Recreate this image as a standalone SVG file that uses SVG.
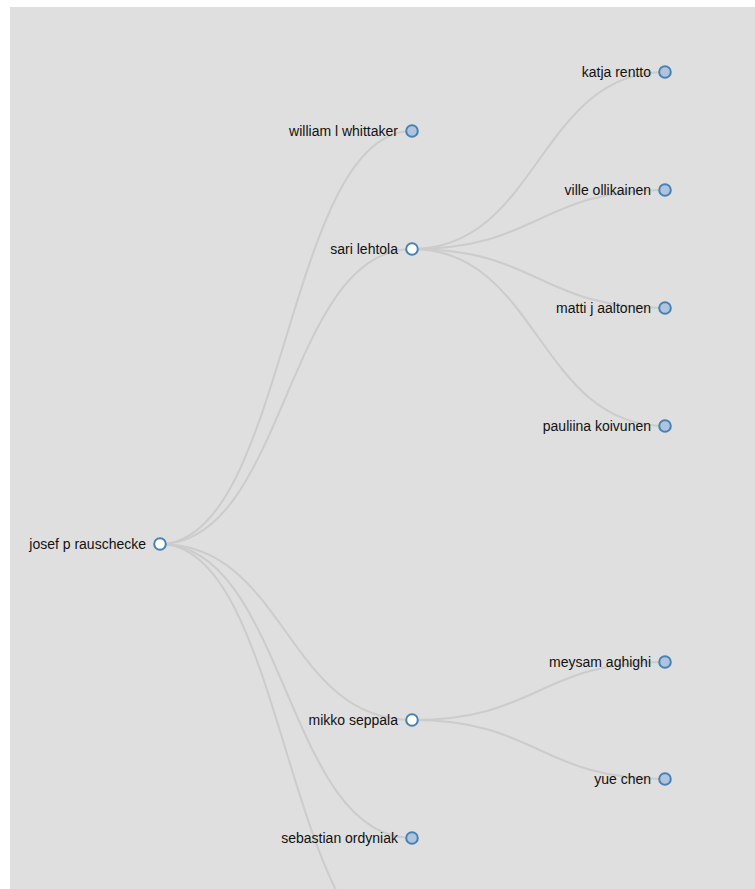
<svg xmlns="http://www.w3.org/2000/svg" width="755" height="889" viewBox="0 0 755 889">
<style>
.link{fill:none;stroke:#cccccc;stroke-width:2}
.node circle{stroke:#4682b4;stroke-width:2}
.node circle.open{fill:#ffffff}
.node circle.shut{fill:#b0c4de}
.node text{font-family:"Liberation Sans",Arial,sans-serif;font-size:14px;fill:#111;text-anchor:end}
</style>
<rect x="0" y="0" width="755" height="889" fill="#ffffff"/>
<rect x="10" y="7" width="745" height="882" fill="#dfdfdf"/>
<g id="links">
<path class="link" d="M160,544 C286,544 286,131 412,131"/>
<path class="link" d="M160,544 C286,544 286,249 412,249"/>
<path class="link" d="M160,544 C286,544 286,720 412,720"/>
<path class="link" d="M160,544 C286,544 286,838 412,838"/>
<path class="link" d="M160,544 C286,544 286,957 412,957"/>
<path class="link" d="M412,249 C538.5,249 538.5,72 665,72"/>
<path class="link" d="M412,249 C538.5,249 538.5,190 665,190"/>
<path class="link" d="M412,249 C538.5,249 538.5,308 665,308"/>
<path class="link" d="M412,249 C538.5,249 538.5,426 665,426"/>
<path class="link" d="M412,720 C538.5,720 538.5,662 665,662"/>
<path class="link" d="M412,720 C538.5,720 538.5,779 665,779"/>
</g>
<g id="josef" class="node" transform="translate(160,544)"><circle class="open" r="5.8"/><text x="-14" y="5">josef p rauschecke</text></g>
<g id="william" class="node" transform="translate(412,131)"><circle class="shut" r="5.8"/><text x="-14" y="5">william l whittaker</text></g>
<g id="sari" class="node" transform="translate(412,249)"><circle class="open" r="5.8"/><text x="-14" y="5">sari lehtola</text></g>
<g id="mikko" class="node" transform="translate(412,720)"><circle class="open" r="5.8"/><text x="-14" y="5">mikko seppala</text></g>
<g id="sebastian" class="node" transform="translate(412,838)"><circle class="shut" r="5.8"/><text x="-14" y="5">sebastian ordyniak</text></g>
<g id="katja" class="node" transform="translate(665,72)"><circle class="shut" r="5.8"/><text x="-14" y="5">katja rentto</text></g>
<g id="ville" class="node" transform="translate(665,190)"><circle class="shut" r="5.8"/><text x="-14" y="5">ville ollikainen</text></g>
<g id="matti" class="node" transform="translate(665,308)"><circle class="shut" r="5.8"/><text x="-14" y="5">matti j aaltonen</text></g>
<g id="pauliina" class="node" transform="translate(665,426)"><circle class="shut" r="5.8"/><text x="-14" y="5">pauliina koivunen</text></g>
<g id="meysam" class="node" transform="translate(665,662)"><circle class="shut" r="5.8"/><text x="-14" y="5">meysam aghighi</text></g>
<g id="yue" class="node" transform="translate(665,779)"><circle class="shut" r="5.8"/><text x="-14" y="5">yue chen</text></g>
</svg>
